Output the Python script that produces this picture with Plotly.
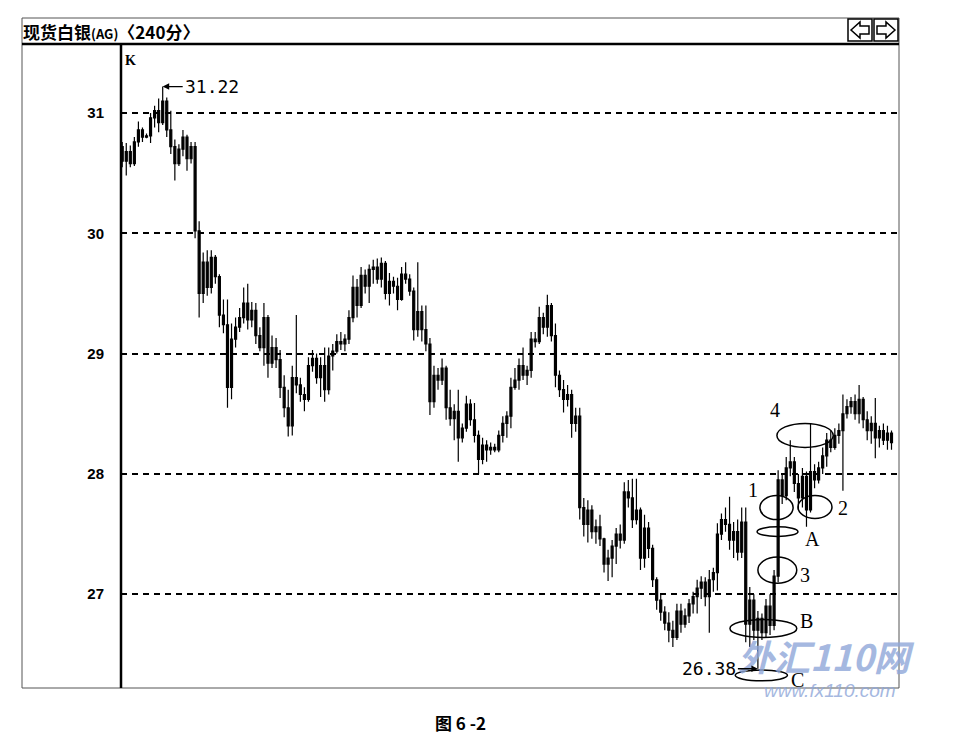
import plotly.graph_objects as go

# ---------------- data (240-minute candles, spot silver) ----------------
open_ = [
    30.72, 30.60, 30.68, 30.58, 30.76, 30.86, 30.80, 30.81, 30.96, 31.02,
    30.92, 31.10, 30.86, 30.72, 30.58, 30.70, 30.80, 30.62, 30.72, 30.02,
    29.50, 29.76, 29.55, 29.80, 29.64, 29.32, 29.24, 28.72, 29.12, 29.22,
    29.30, 29.42, 29.28, 29.36, 29.15, 29.05, 29.30, 28.92, 29.05, 28.95,
    28.72, 28.55, 28.40, 28.80, 28.74, 28.66, 28.62, 28.90, 28.96, 28.80,
    28.90, 28.70, 28.98, 29.02, 29.10, 29.08, 29.12, 29.30, 29.55, 29.40,
    29.65, 29.56, 29.70, 29.72, 29.62, 29.75, 29.50, 29.60, 29.56, 29.45,
    29.66, 29.62, 29.52, 29.20, 29.35, 29.20, 29.08, 28.60, 28.82, 28.78,
    28.88, 28.55, 28.46, 28.52, 28.30, 28.38, 28.58, 28.45, 28.32, 28.12,
    28.24, 28.20, 28.22, 28.20, 28.32, 28.42, 28.48, 28.72, 28.78, 28.90,
    28.82, 28.86, 29.12, 29.10, 29.30, 29.22, 29.40, 29.15, 28.82, 28.70,
    28.62, 28.66, 28.42, 28.48, 27.72, 27.58, 27.70, 27.52, 27.56, 27.46,
    27.25, 27.30, 27.40, 27.50, 27.45, 27.85, 27.80, 27.62, 27.70, 27.30,
    27.55, 27.38, 27.12, 26.95, 26.85, 26.76, 26.70, 26.64, 26.86, 26.75,
    26.82, 26.92, 26.98, 27.05, 27.10, 26.98, 27.12, 27.18, 27.50, 27.62,
    27.58, 27.45, 27.52, 27.35, 27.60, 26.75, 26.95, 26.70, 26.80, 26.68,
    26.90, 26.74, 27.15, 27.95, 27.82, 28.05, 28.10, 27.92, 27.80, 27.98,
    27.70, 28.02, 27.95, 28.05, 28.15, 28.28, 28.22, 28.32, 28.36, 28.50,
    28.56, 28.60, 28.50, 28.62, 28.45, 28.36, 28.42, 28.30, 28.36, 28.28,
    28.34,
]
high = [
    30.76, 30.75, 30.73, 30.80, 30.93, 30.88, 30.83, 31.00, 31.06, 31.12,
    31.22, 31.13, 31.02, 30.78, 30.74, 30.86, 30.82, 30.76, 30.76, 30.10,
    29.84, 29.86, 29.86, 29.82, 29.66, 29.45, 29.45, 29.25, 29.30, 29.38,
    29.55, 29.58, 29.43, 29.42, 29.22, 29.42, 29.32, 29.15, 29.13, 29.03,
    28.82, 28.70, 28.90, 29.32, 28.80, 28.72, 28.97, 29.03, 29.00, 28.97,
    29.05, 29.05, 29.08, 29.16, 29.18, 29.16, 29.36, 29.65, 29.62, 29.72,
    29.70, 29.74, 29.78, 29.79, 29.80, 29.77, 29.67, 29.64, 29.63, 29.72,
    29.76, 29.66, 29.55, 29.76, 29.40, 29.40, 29.13, 28.90, 28.88, 28.96,
    28.90, 28.70, 28.58, 28.70, 28.42, 28.65, 28.62, 28.59, 28.36, 28.30,
    28.28, 28.26, 28.25, 28.36, 28.48, 28.52, 28.80, 28.88, 28.96, 29.05,
    28.90, 29.18, 29.18, 29.39, 29.34, 29.49, 29.42, 29.25, 28.86, 28.78,
    28.74, 28.70, 28.55, 28.55, 27.80, 27.78, 27.74, 27.62, 27.66, 27.47,
    27.37, 27.45, 27.55, 27.58, 27.93, 27.95, 27.96, 27.96, 27.72, 27.66,
    27.60, 27.41, 27.14, 27.00, 26.90, 26.85, 26.78, 26.92, 26.92, 26.88,
    26.96, 27.02, 27.12, 27.15, 27.14, 27.20, 27.22, 27.59, 27.67, 27.72,
    27.81, 27.60, 27.62, 27.72, 27.72, 27.06, 27.00, 26.86, 26.84, 26.96,
    27.00, 27.20, 28.03, 28.00, 28.14, 28.28, 28.14, 28.00, 28.05, 28.02,
    28.42, 28.08, 28.10, 28.22, 28.34, 28.36, 28.38, 28.42, 28.66, 28.62,
    28.64, 28.66, 28.74, 28.64, 28.52, 28.48, 28.63, 28.40, 28.42, 28.40,
    28.36,
]
low = [
    30.55, 30.48, 30.55, 30.56, 30.72, 30.76, 30.79, 30.75, 30.88, 30.84,
    30.90, 30.80, 30.66, 30.44, 30.56, 30.64, 30.52, 30.58, 29.96, 29.30,
    29.42, 29.48, 29.50, 29.58, 29.22, 29.17, 28.55, 28.62, 29.05, 29.18,
    29.25, 29.20, 29.22, 29.08, 29.02, 28.90, 28.80, 28.88, 28.88, 28.63,
    28.47, 28.31, 28.32, 28.67, 28.60, 28.52, 28.60, 28.85, 28.75, 28.64,
    28.60, 28.66, 28.86, 29.00, 29.03, 29.02, 29.08, 29.26, 29.30, 29.38,
    29.50, 29.42, 29.58, 29.58, 29.55, 29.45, 29.40, 29.50, 29.36, 29.44,
    29.58, 29.48, 29.11, 29.14, 29.10, 29.02, 28.49, 28.55, 28.70, 28.74,
    28.45, 28.40, 28.28, 28.10, 28.26, 28.35, 28.40, 28.26, 28.00, 28.08,
    28.10, 28.16, 28.18, 28.18, 28.26, 28.30, 28.38, 28.70, 28.70, 28.78,
    28.74, 28.80, 29.05, 29.08, 29.16, 29.14, 29.10, 28.72, 28.64, 28.51,
    28.56, 28.30, 28.35, 27.62, 27.48, 27.43, 27.46, 27.42, 27.40, 27.18,
    27.11, 27.14, 27.25, 27.38, 27.42, 27.72, 27.55, 27.58, 27.20, 27.22,
    27.30, 27.06, 26.87, 26.78, 26.70, 26.60, 26.56, 26.62, 26.68, 26.72,
    26.76, 26.84, 26.84, 26.96, 26.90, 26.68, 27.02, 27.03, 27.45, 27.52,
    27.37, 27.30, 27.28, 27.30, 26.60, 26.56, 26.62, 26.38, 26.62, 26.64,
    26.66, 26.70, 27.10, 27.75, 27.78, 27.98, 27.85, 27.70, 27.72, 27.56,
    27.68, 27.88, 27.92, 28.00, 28.06, 28.18, 28.20, 28.25, 27.86, 28.46,
    28.50, 28.45, 28.42, 28.38, 28.28, 28.25, 28.13, 28.22, 28.24, 28.20,
    28.20,
]
close = [
    30.60, 30.68, 30.58, 30.76, 30.86, 30.80, 30.81, 30.96, 31.02, 30.92,
    31.10, 30.86, 30.72, 30.58, 30.70, 30.80, 30.62, 30.72, 30.02, 29.50,
    29.76, 29.55, 29.80, 29.64, 29.32, 29.24, 28.72, 29.12, 29.22, 29.30,
    29.42, 29.28, 29.36, 29.15, 29.05, 29.30, 28.92, 29.05, 28.95, 28.72,
    28.55, 28.40, 28.80, 28.74, 28.66, 28.62, 28.90, 28.96, 28.80, 28.90,
    28.70, 28.98, 29.02, 29.10, 29.08, 29.12, 29.30, 29.55, 29.40, 29.65,
    29.56, 29.70, 29.72, 29.62, 29.75, 29.50, 29.60, 29.56, 29.45, 29.66,
    29.62, 29.52, 29.20, 29.35, 29.20, 29.08, 28.60, 28.82, 28.78, 28.88,
    28.55, 28.46, 28.52, 28.30, 28.38, 28.58, 28.45, 28.32, 28.12, 28.24,
    28.20, 28.22, 28.20, 28.32, 28.42, 28.48, 28.72, 28.78, 28.90, 28.82,
    28.86, 29.12, 29.10, 29.30, 29.22, 29.40, 29.15, 28.82, 28.70, 28.62,
    28.66, 28.42, 28.48, 27.72, 27.58, 27.70, 27.52, 27.56, 27.46, 27.25,
    27.30, 27.40, 27.50, 27.45, 27.85, 27.80, 27.62, 27.70, 27.30, 27.55,
    27.38, 27.12, 26.95, 26.85, 26.76, 26.70, 26.64, 26.86, 26.75, 26.82,
    26.92, 26.98, 27.05, 27.10, 26.98, 27.12, 27.18, 27.50, 27.62, 27.58,
    27.45, 27.52, 27.35, 27.60, 26.75, 26.95, 26.70, 26.80, 26.68, 26.90,
    26.74, 27.15, 27.95, 27.82, 28.05, 28.10, 27.92, 27.80, 27.98, 27.70,
    28.02, 27.95, 28.05, 28.15, 28.28, 28.22, 28.32, 28.36, 28.50, 28.56,
    28.60, 28.50, 28.62, 28.45, 28.36, 28.42, 28.30, 28.36, 28.28, 28.34,
    28.26,
]
y_ticks = [27, 28, 29, 30, 31]
title_text = "现货白银<span style='font-size:13px'>(AG)</span>〈240分〉"
caption = "图 6 -2"

# ---------------- geometry helpers (reference pixel -> paper) ----------------
OFF = 8                      # page body margin in the browser
L, R, T, B = 121, 899, 44, 688
PAGE_W, PAGE_H = 962, 748
def PX(px):
    return (px - L) / (R - L)
def PY(py):
    return (B - py) / (B - T)

x = list(range(len(close)))
i_hi = high.index(max(high))
i_lo = low.index(min(low))

fig = go.Figure()
fig.add_trace(go.Candlestick(
    x=x, open=open_, high=high, low=low, close=close,
    increasing=dict(line=dict(color="black", width=1.2), fillcolor="black"),
    decreasing=dict(line=dict(color="black", width=1.2), fillcolor="black"),
    whiskerwidth=0, showlegend=False, hoverinfo="skip",
))

shapes = []
frame = dict(type="line", xref="paper", yref="paper", line=dict(color="#555", width=1))
shapes.append({**frame, "x0": PX(22), "x1": PX(899), "y0": PY(18), "y1": PY(18)})
shapes.append({**frame, "x0": PX(22), "x1": PX(22), "y0": PY(18), "y1": PY(688)})
shapes.append({**frame, "x0": PX(899), "x1": PX(899), "y0": PY(18), "y1": PY(688)})
shapes.append({**frame, "x0": PX(22), "x1": PX(899), "y0": PY(688), "y1": PY(688)})
shapes.append(dict(type="line", xref="paper", yref="paper", x0=PX(22), x1=PX(899),
                   y0=PY(44), y1=PY(44), line=dict(color="black", width=2.5)))
shapes.append(dict(type="line", xref="paper", yref="paper", x0=PX(121), x1=PX(121),
                   y0=PY(44), y1=PY(688), line=dict(color="black", width=2.5)))
# arrow buttons
for bx0, bx1 in [(848, 872), (874, 898)]:
    shapes.append(dict(type="rect", xref="paper", yref="paper", x0=PX(bx0), x1=PX(bx1),
                       y0=PY(19), y1=PY(41), line=dict(color="black", width=1.5)))
def poly(pts):
    return "M " + " L ".join(f"{PX(a):.5f},{PY(b):.5f}" for a, b in pts) + " Z"
left_arrow = [(851, 30), (860, 22), (860, 26), (869, 26), (869, 34), (860, 34), (860, 38)]
right_arrow = [(895, 30), (886, 22), (886, 26), (877, 26), (877, 34), (886, 34), (886, 38)]
for pts in (left_arrow, right_arrow):
    shapes.append(dict(type="path", xref="paper", yref="paper", path=poly(pts),
                       line=dict(color="black", width=1.5)))

# hand-drawn ellipses (data coords: candle index, price)
ellipses = [
    (161.7, 175.6, 28.22, 28.42),  # 4
    (157.5, 165.7, 27.62, 27.82),  # 1
    (166.9, 175.3, 27.63, 27.82),  # 2
    (156.8, 166.9, 27.48, 27.56),  # A
    (157.0, 166.6, 27.09, 27.31),  # 3
    (150.1, 166.6, 26.64, 26.79),  # B
    (151.4, 164.3, 26.28, 26.37),  # C
]
for x0, x1, y0, y1 in ellipses:
    shapes.append(dict(type="circle", xref="x", yref="y", x0=x0, x1=x1, y0=y0, y1=y1,
                       line=dict(color="black", width=1.5)))

def ptext(text, px, py, font, xa="center"):
    return dict(text=text, xref="paper", yref="paper", x=PX(px), y=PY(py),
                xanchor=xa, yanchor="middle", showarrow=False, font=font)

annotations = [
    # watermark first so that the chart texts are drawn over it
    ptext("<i><b>外汇110网</b></i>", 826, 655,
          dict(family="Noto Sans CJK SC", size=36, color="#8fa7d9")),
    ptext("<i>www.fx110.com</i>", 830, 690,
          dict(family="Liberation Sans", size=19, color="#8fa7d9")),
    ptext(title_text, 21, 31, dict(family="Noto Sans CJK SC", size=17, color="black",
                                    weight="bold"), xa="left"),
    ptext("K", 123, 60, dict(family="Liberation Serif", size=14, color="black",
                             weight="bold"), xa="left"),
    dict(text="31.22", x=i_hi, y=max(high), xref="x", yref="y", showarrow=True,
         ax=20, ay=0, xanchor="left", yanchor="middle", arrowhead=2, arrowsize=1,
         arrowwidth=1.3, arrowcolor="black", standoff=0,
         font=dict(family="DejaVu Sans Mono", size=18, color="black")),
    dict(text="26.38", x=i_lo, y=min(low), xref="x", yref="y", showarrow=True,
         ax=-20, ay=0, xanchor="right", yanchor="middle", arrowhead=2, arrowsize=1,
         arrowwidth=1.3, arrowcolor="black", standoff=0,
         font=dict(family="DejaVu Sans Mono", size=18, color="black")),
    ptext(caption, 460, 722, dict(family="Noto Sans CJK SC", size=17, color="black",
                                  weight="bold")),
]
annotations[0]["opacity"] = 0.8
annotations[1]["opacity"] = 0.8
labels = [("4", 161.2, 28.53), ("1", 155.8, 27.87), ("2", 178.0, 27.72),
          ("A", 170.6, 27.46), ("3", 168.6, 27.16), ("B", 169.1, 26.78), ("C", 166.9, 26.29)]
for t, lx, ly in labels:
    annotations.append(dict(text=t, x=lx, y=ly, xref="x", yref="y", showarrow=False,
                            font=dict(family="Liberation Serif", size=20, color="black")))

fig.update_layout(
    width=PAGE_W - OFF, height=PAGE_H - OFF,
    margin=dict(l=L - OFF, r=PAGE_W - R, t=T - OFF, b=PAGE_H - B, autoexpand=False),
    paper_bgcolor="white", plot_bgcolor="white",
    shapes=shapes, annotations=annotations,
    xaxis=dict(range=[-0.3, (R - 122) / 4.05], visible=False,
               rangeslider=dict(visible=False), fixedrange=True),
    yaxis=dict(range=[26.22, 31.574], tickvals=y_ticks, ticktext=[str(v) for v in y_ticks],
               showgrid=True, gridcolor="black", griddash="6px,5px", gridwidth=1.5,
               zeroline=False, showline=False, ticks="", ticklabelstandoff=16,
               tickfont=dict(family="Liberation Sans", size=15, color="black", weight="bold"),
               fixedrange=True),
)

fig.write_html("out.html")
